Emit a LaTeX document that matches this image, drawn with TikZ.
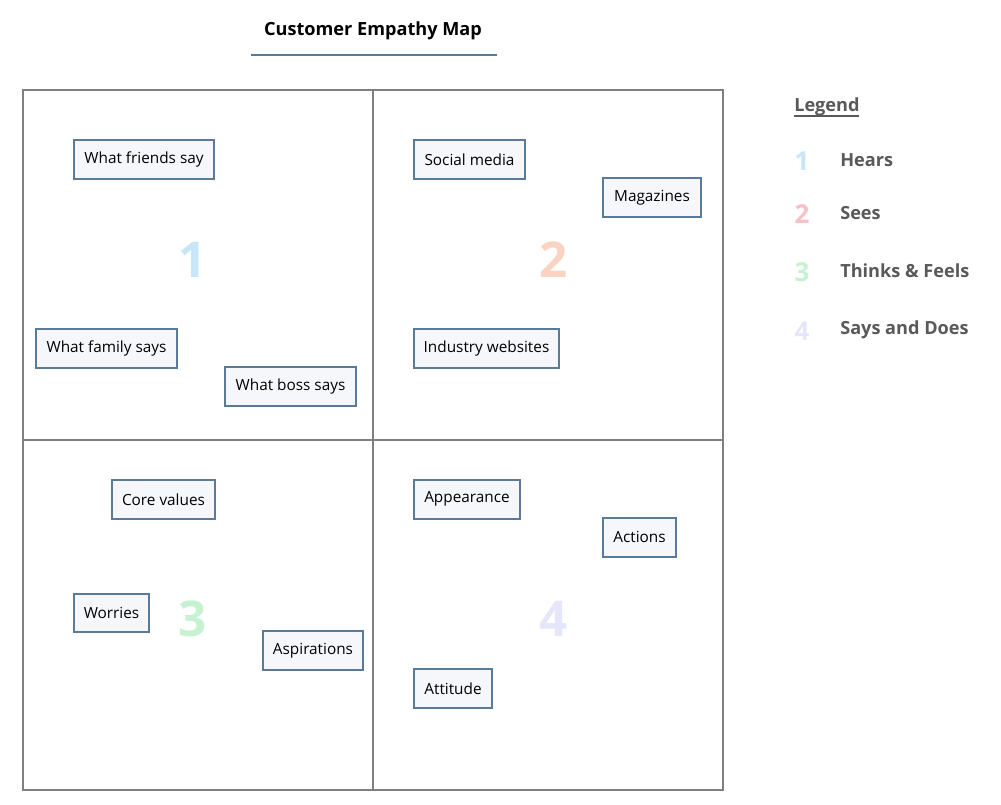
\documentclass[tikz,border=0pt]{standalone}
\usepackage{fontspec}
\setmainfont{Open Sans}
\definecolor{boxline}{HTML}{5B7A99}
\definecolor{boxfill}{HTML}{F5F7FA}
\definecolor{gridline}{HTML}{7F7F7F}
\definecolor{legendtxt}{HTML}{595959}
\definecolor{numone}{HTML}{C7E6FA}
\definecolor{numtwo}{HTML}{FAD3C2}
\definecolor{numthree}{HTML}{C6F2D2}
\definecolor{numfour}{HTML}{E6E6FA}
\definecolor{legtwo}{HTML}{F7C0C8}
\tikzset{
  every picture/.style={x=0.75pt,y=-0.75pt},
  card/.style={draw=boxline,fill=boxfill,line width=1.4pt,inner sep=0pt,font=\fontsize{11.5}{13}\selectfont},
  bignum/.style={font=\fontsize{37}{40}\bfseries\selectfont},
  legnum/.style={font=\fontsize{19.5}{22}\bfseries\selectfont,anchor=center},
  legtext/.style={font=\fontsize{13.6}{16}\bfseries\selectfont,text=legendtxt,anchor=west,inner sep=0pt},
  grid/.style={draw=gridline,line width=0.8pt}
}
\begin{document}
\begin{tikzpicture}
\useasboundingbox[fill=white] (0,0) rectangle (1001,805);
% title
\node[font=\fontsize{13.6}{16}\bfseries\selectfont] (title) at (373,30.5) {Customer Empathy Map};
\coordinate (ulA) at (251,55);
\coordinate (ulB) at (497,55);
\draw[boxline,line width=1.5pt] (ulA) -- (ulB);
% grid
\draw[grid] (23,90) rectangle (723,790);
\coordinate (vt) at (373,90);
\coordinate (vb) at (373,790);
\coordinate (hl) at (23,440);
\coordinate (hr) at (723,440);
\draw[grid] (vt) -- (vb);
\draw[grid] (hl) -- (hr);
% big numbers
\node[bignum,text=numone] (n1) at (193,260) {1};
\node[bignum,text=numtwo] (n2) at (554,260) {2};
\node[bignum,text=numthree] (n3) at (193,619) {3};
\node[bignum,text=numfour] (n4) at (554,619) {4};
% cards
\newcommand{\card}[6]{%
  \node[card,minimum width=#4*0.75pt-1.4pt,minimum height=#5*0.75pt-1.4pt] (#1) at ({#2+#4/2},{#3+#5/2+0.8}) {#6};}
\card{friends}{73}{138}{142}{41}{What friends say}
\card{family}{35}{327}{143}{41}{What family says}
\card{boss}{224}{365}{133}{41}{What boss says}
\card{social}{413}{138}{113}{41}{Social media}
\card{mags}{602}{176}{100}{41}{Magazines}
\card{industry}{413}{327}{147}{41}{Industry websites}
\card{core}{111}{478}{105}{41}{Core values}
\card{worries}{73}{592}{77}{40}{Worries}
\card{aspir}{262}{629}{102}{41}{Aspirations}
\card{appear}{413}{478}{108}{41}{Appearance}
\card{actions}{602}{516}{75}{41}{Actions}
\card{attitude}{413}{667}{80}{41}{Attitude}
% legend
\node[legtext] (legend) at (794,106.5) {Legend};
\coordinate (lgA) at (794,116);
\coordinate (lgB) at (859,116);
\draw[legendtxt,line width=0.9pt] (lgA) -- (lgB);
\node[legnum,text=numone] (l1) at (802,161) {1};
\node[legtext] (t1) at (840,160) {Hears};
\node[legnum,text=legtwo] (l2) at (802,214) {2};
\node[legtext] (t2) at (840,213) {Sees};
\node[legnum,text=numthree] (l3) at (802,272) {3};
\node[legtext] (t3) at (840,271) {Thinks \& Feels};
\node[legnum,text=numfour] (l4) at (802,331) {4};
\node[legtext] (t4) at (840,330) {Says and Does};
\end{tikzpicture}
\end{document}
